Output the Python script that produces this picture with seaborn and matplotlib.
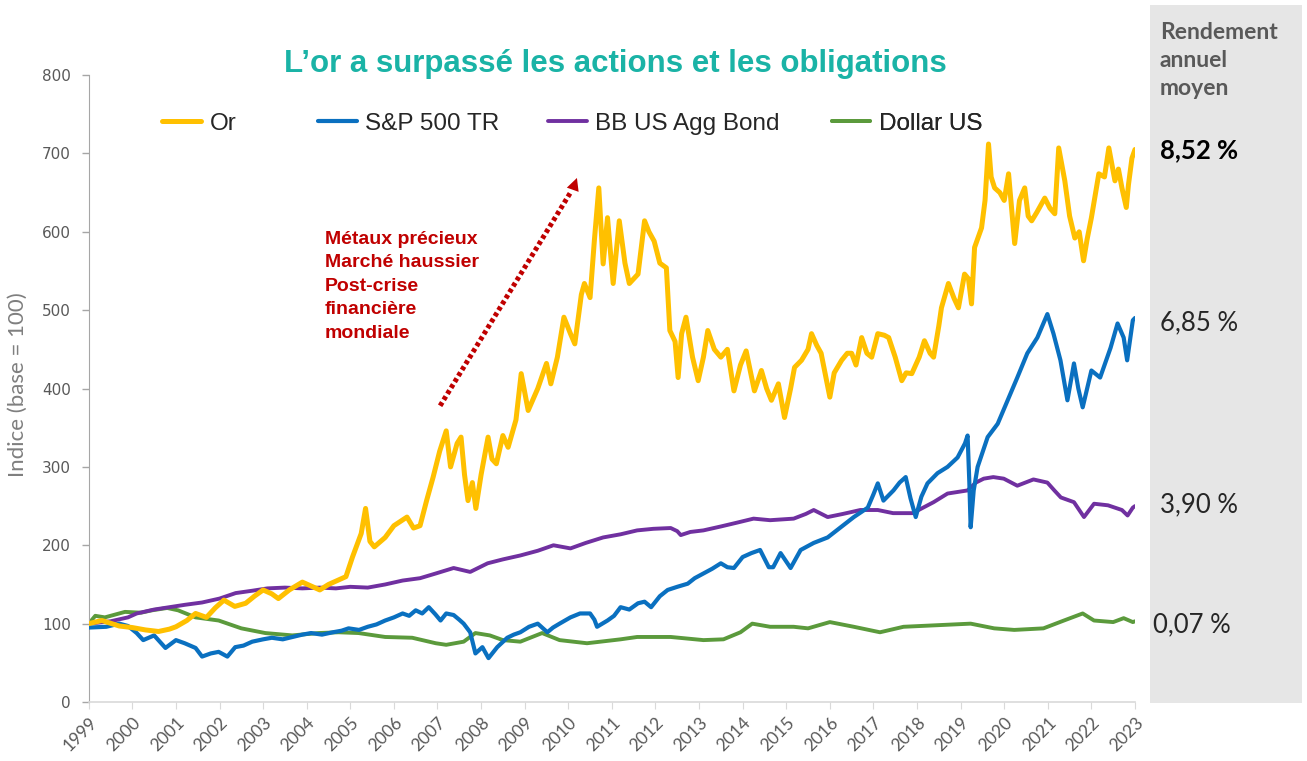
import numpy as np
import pandas as pd
import matplotlib
matplotlib.use("Agg")
import matplotlib.pyplot as plt
import seaborn as sns
from matplotlib.patches import Rectangle

# Or (indice, base 100)
or_dates = [1999.0, 1999.3, 1999.7, 2000.0, 2000.3, 2000.6, 2000.85, 2001.0, 2001.25, 2001.45,
            2001.7, 2001.9, 2002.1, 2002.35, 2002.6, 2002.8, 2003.0, 2003.2, 2003.35, 2003.6,
            2003.9, 2004.1, 2004.3, 2004.5, 2004.7, 2004.9, 2005.05, 2005.25, 2005.35, 2005.45,
            2005.55, 2005.8, 2006.0, 2006.3, 2006.45, 2006.6, 2006.75, 2006.9, 2007.05, 2007.2,
            2007.3, 2007.45, 2007.54, 2007.62, 2007.7, 2007.8, 2007.88, 2008.0, 2008.16, 2008.25,
            2008.35, 2008.5, 2008.62, 2008.8, 2008.92, 2009.08, 2009.3, 2009.5, 2009.6, 2009.75,
            2009.9, 2010.05, 2010.15, 2010.3, 2010.37, 2010.5, 2010.6, 2010.7, 2010.8, 2010.9,
            2011.03, 2011.17, 2011.3, 2011.4, 2011.6, 2011.75, 2011.85, 2011.97, 2012.1, 2012.25,
            2012.33, 2012.45, 2012.52, 2012.6, 2012.7, 2012.85, 2012.98, 2013.1, 2013.2, 2013.35,
            2013.5, 2013.65, 2013.8, 2013.95, 2014.08, 2014.27, 2014.43, 2014.55, 2014.66, 2014.82,
            2014.96, 2015.1, 2015.19, 2015.35, 2015.5, 2015.58, 2015.7, 2015.8, 2016.0, 2016.1,
            2016.27, 2016.4, 2016.5, 2016.6, 2016.73, 2016.85, 2016.96, 2017.1, 2017.25, 2017.35,
            2017.5, 2017.65, 2017.75, 2017.88, 2018.05, 2018.17, 2018.3, 2018.38, 2018.5, 2018.56,
            2018.72, 2018.85, 2018.95, 2019.09, 2019.18, 2019.25, 2019.32, 2019.48, 2019.56, 2019.64,
            2019.7, 2019.78, 2019.9, 2020.0, 2020.1, 2020.24, 2020.35, 2020.47, 2020.55, 2020.63,
            2020.75, 2020.93, 2021.05, 2021.16, 2021.25, 2021.39, 2021.5, 2021.62, 2021.72, 2021.82,
            2021.9, 2022.0, 2022.17, 2022.3, 2022.4, 2022.54, 2022.62, 2022.7, 2022.8, 2022.85,
            2022.93, 2023.0]
or_values = [100, 104, 97, 95, 92, 90, 93, 96, 104, 113,
             108, 120, 130, 122, 126, 135, 143, 138, 132, 143,
             153, 148, 143, 150, 155, 160, 185, 215, 247, 205,
             198, 210, 225, 236, 222, 225, 257, 287, 320, 346,
             300, 330, 338, 290, 257, 280, 247, 290, 338, 310,
             304, 340, 325, 360, 419, 372, 400, 432, 406, 440,
             491, 470, 457, 520, 534, 516, 590, 656, 559, 618,
             534, 614, 560, 534, 546, 614, 600, 588, 560, 554,
             474, 460, 414, 470, 491, 440, 410, 440, 474, 450,
             440, 450, 397, 430, 448, 397, 423, 400, 385, 406,
             363, 400, 427, 436, 450, 470, 455, 445, 389, 420,
             436, 445, 445, 430, 465, 445, 440, 470, 468, 465,
             440, 410, 420, 419, 440, 461, 445, 440, 480, 503,
             534, 515, 503, 546, 540, 508, 580, 605, 640, 712,
             670, 656, 650, 640, 674, 585, 640, 656, 620, 614,
             625, 643, 630, 623, 707, 665, 620, 592, 600, 563,
             590, 618, 674, 670, 707, 665, 680, 656, 631, 660,
             694, 705]

# S&P 500 TR
sp_dates = [1999.0, 1999.4, 1999.7, 1999.9, 2000.1, 2000.25, 2000.5, 2000.76, 2001.0, 2001.2,
            2001.45, 2001.6, 2001.8, 2001.98, 2002.18, 2002.36, 2002.55, 2002.75, 2003.0, 2003.2,
            2003.45, 2003.67, 2003.9, 2004.1, 2004.35, 2004.6, 2004.8, 2004.96, 2005.2, 2005.4,
            2005.6, 2005.8, 2006.0, 2006.2, 2006.35, 2006.5, 2006.65, 2006.8, 2006.95, 2007.07,
            2007.2, 2007.37, 2007.5, 2007.6, 2007.75, 2007.87, 2008.03, 2008.17, 2008.37, 2008.6,
            2008.75, 2008.9, 2009.1, 2009.3, 2009.4, 2009.52, 2009.65, 2009.8, 2010.05, 2010.27,
            2010.5, 2010.6, 2010.66, 2010.9, 2011.05, 2011.2, 2011.4, 2011.6, 2011.75, 2011.9,
            2012.1, 2012.28, 2012.5, 2012.74, 2012.9, 2013.1, 2013.3, 2013.5, 2013.65, 2013.8,
            2014.0, 2014.2, 2014.4, 2014.6, 2014.7, 2014.87, 2015.1, 2015.33, 2015.63, 2015.95,
            2016.25, 2016.55, 2016.87, 2017.0, 2017.1, 2017.23, 2017.46, 2017.6, 2017.74, 2017.85,
            2017.97, 2018.1, 2018.24, 2018.47, 2018.7, 2018.93, 2019.1, 2019.16, 2019.2, 2019.23,
            2019.3, 2019.39, 2019.62, 2019.85, 2020.08, 2020.3, 2020.53, 2020.76, 2020.99, 2021.13,
            2021.29, 2021.45, 2021.6, 2021.7, 2021.8, 2022.0, 2022.2, 2022.44, 2022.6, 2022.74,
            2022.82, 2022.95, 2023.0]
sp_values = [95, 96, 100, 97, 88, 79, 85, 69, 79, 75,
             69, 58, 62, 64, 58, 70, 72, 77, 80, 82,
             80, 83, 86, 88, 86, 89, 91, 94, 92, 96,
             99, 104, 108, 113, 110, 117, 113, 121, 112, 104,
             113, 111, 105, 100, 89, 62, 70, 56, 70, 82,
             86, 89, 96, 100, 95, 89, 95, 100, 108, 113,
             113, 105, 96, 104, 110, 121, 118, 126, 128, 121,
             135, 143, 147, 151, 158, 164, 170, 177, 172, 171,
             185, 190, 194, 172, 172, 190, 171, 194, 203, 210,
             223, 236, 248, 265, 279, 257, 270, 280, 287, 260,
             236, 262, 279, 292, 300, 312, 330, 340, 280, 223,
             270, 300, 338, 355, 385, 414, 445, 465, 495, 470,
             436, 385, 432, 400, 376, 423, 414, 452, 483, 465,
             436, 487, 490]

# BB US Agg Bond
bond_dates = [1999.0, 1999.5, 1999.9, 2000.1, 2000.5, 2000.85, 2001.2, 2001.6, 2002.0, 2002.37,
              2002.75, 2003.1, 2003.5, 2003.9, 2004.3, 2004.67, 2005.0, 2005.4, 2005.8, 2006.2,
              2006.6, 2006.96, 2007.37, 2007.75, 2008.15, 2008.5, 2008.9, 2009.3, 2009.66, 2010.05,
              2010.4, 2010.8, 2011.2, 2011.58, 2011.95, 2012.35, 2012.5, 2012.58, 2012.8, 2013.1,
              2013.5, 2013.88, 2014.25, 2014.63, 2015.17, 2015.45, 2015.63, 2015.95, 2016.3, 2016.7,
              2017.1, 2017.45, 2017.9, 2018.38, 2018.7, 2019.16, 2019.35, 2019.53, 2019.75, 2019.99,
              2020.3, 2020.67, 2020.99, 2021.15, 2021.3, 2021.6, 2021.83, 2022.06, 2022.38, 2022.7,
              2022.83, 2022.95, 2023.0]
bond_values = [100, 103, 108, 113, 118, 121, 124, 127, 132, 139,
               142, 145, 146, 145, 146, 145, 147, 146, 150, 155,
               158, 164, 171, 166, 177, 182, 187, 193, 200, 196,
               203, 210, 214, 219, 221, 222, 218, 213, 217, 219,
               224, 229, 234, 232, 234, 240, 245, 236, 240, 245,
               245, 241, 241, 255, 266, 270, 280, 285, 287, 285,
               276, 284, 280, 270, 261, 255, 236, 253, 251, 245,
               238, 248, 250]

# Dollar US
usd_dates = [1999.0, 1999.15, 1999.37, 1999.83, 2000.2, 2000.45, 2000.8, 2001.05, 2001.45, 2001.98,
             2002.5, 2003.05, 2003.67, 2004.27, 2004.73, 2005.19, 2005.8, 2006.42, 2006.96, 2007.2,
             2007.6, 2007.87, 2008.2, 2008.5, 2008.9, 2009.4, 2009.8, 2010.43, 2011.2, 2011.58,
             2012.35, 2013.1, 2013.56, 2013.95, 2014.22, 2014.63, 2015.17, 2015.5, 2016.0, 2016.55,
             2017.15, 2017.69, 2018.46, 2019.23, 2019.77, 2020.23, 2020.9, 2021.37, 2021.8, 2022.06,
             2022.5, 2022.74, 2022.95, 2023.0]
usd_values = [100, 110, 108, 115, 114, 117, 120, 117, 108, 104,
              94, 88, 85, 88, 89, 88, 83, 82, 75, 73,
              77, 88, 85, 79, 77, 88, 79, 75, 80, 83,
              83, 79, 80, 89, 100, 96, 96, 94, 102, 96,
              89, 96, 98, 100, 94, 92, 94, 104, 113, 104,
              102, 107, 102, 103]

series_names = ["Or", "S&P 500 TR", "BB US Agg Bond", "Dollar US"]
colors = ["#FFC000", "#0A70C0", "#7030A0", "#5B9A3C"]
widths = [3.6, 3.0, 2.8, 2.8]
returns = ["8,52 %", "6,85 %", "3,90 %", "0,07 %"]
years = list(range(1999, 2024))

frames = []
for name, d, v in zip(series_names,
                      [or_dates, sp_dates, bond_dates, usd_dates],
                      [or_values, sp_values, bond_values, usd_values]):
    frames.append(pd.DataFrame({"date": d, "value": v, "serie": name}))
df = pd.concat(frames, ignore_index=True)

sns.set_style("white")
plt.rcParams["font.family"] = ["DejaVu Sans"]

fig = plt.figure(figsize=(13.07, 7.61), dpi=100)
ax = fig.add_axes([0.0679, 0.0775, 0.8005, 0.8239])

# panneau gris à droite
fig.patches.append(Rectangle((0.880, 0.076), 0.116, 0.917, transform=fig.transFigure,
                             facecolor="#E6E6E6", edgecolor="none", zorder=0))

# tracer du dernier au premier pour que l'or soit au-dessus
for i in reversed(range(4)):
    sub = df[df["serie"] == series_names[i]]
    sns.lineplot(data=sub, x="date", y="value", ax=ax, color=colors[i],
                 linewidth=widths[i], estimator=None, sort=False, label=series_names[i],
                 zorder=5 - i)

ax.set_xlim(1999, 2023)
ax.set_ylim(0, 800)
ax.set_yticks(range(0, 801, 100))
ax.set_xticks(years)
ax.set_xticklabels([str(y) for y in years], rotation=45, ha="right", va="top",
                   rotation_mode="anchor", fontsize=12.5, color="#595959", family="Lato")
ax.tick_params(axis="y", labelsize=11, labelcolor="#595959", length=5, color="#A6A6A6",
               direction="out", left=True, width=1, pad=8)
ax.tick_params(axis="x", length=5, color="#D9D9D9", direction="out", bottom=True, pad=4)
for lbl in ax.get_yticklabels():
    lbl.set_family("DejaVu Sans")
ax.set_xlabel("")
ax.set_ylabel("")
for s in ["top", "right"]:
    ax.spines[s].set_visible(False)
ax.spines["left"].set_color("#A6A6A6")
ax.spines["bottom"].set_color("#D9D9D9")
ax.spines["bottom"].set_linewidth(1.2)

fig.text(0.0138, 0.494, "Indice (base = 100)", rotation=90, ha="center", va="center",
         fontsize=16, color="#7F7F7F", family="Lato")

# légende : une entrée par position, comme dans l'original
handles, labels = ax.get_legend_handles_labels()
ax.get_legend().remove()
leg_x = [0.070, 0.219, 0.439, 0.710]
for name, lx in zip(series_names, leg_x):
    k = labels.index(name)
    lg = ax.legend([handles[k]], [name], loc="center left", bbox_to_anchor=(lx, 0.922),
                   frameon=False, borderpad=0, borderaxespad=0, handlelength=1.6,
                   handletextpad=0.35,
                   prop={"family": ["Liberation Sans Narrow", "Liberation Sans"], "size": 17.5})
    ax.add_artist(lg)

fig.text(0.4706, 0.9165, "L\u2019or a surpassé les actions et les obligations", ha="center",
         va="center", fontsize=22.5, fontweight="bold", color="#1AB3A6",
         family=["Liberation Sans Narrow", "Liberation Sans"])

fig.text(0.2487, 0.6965, "Métaux précieux\nMarché haussier\nPost-crise\nfinancière\nmondiale",
         ha="left", va="top", fontsize=14, fontweight="bold", color="#C00000",
         family="Liberation Sans", linespacing=1.5)

# flèche pointillée
ax.plot([2007.06, 2010.05], [378, 650], color="#C00000", lw=3.6,
        linestyle=(0, (0.8, 0.6)), solid_capstyle="butt", zorder=6)
ax.annotate("", xy=(2010.22, 672), xytext=(2009.95, 630),
            arrowprops=dict(arrowstyle="-|>,head_length=0.9,head_width=0.45", lw=0,
                            color="#C00000"), zorder=6)

# rendements annuels moyens
fig.text(0.8875, 0.971, "Rendement\nannuel\nmoyen", ha="left", va="top", fontsize=16.5,
         fontweight="bold", color="#595959", family="Lato", linespacing=1.4)
ret_y = [150, 323, 505, 625]
ret_x = [1160, 1160, 1160, 1153]
for r, yy, xx, k in zip(returns, ret_y, ret_x, range(4)):
    fig.text(xx / 1307, 1 - yy / 761, r, ha="left", va="center", fontsize=18.5,
             fontweight="bold" if k == 0 else "normal",
             color="#000000" if k == 0 else "#262626", family="Lato")

fig.savefig("out.png", dpi=100)
